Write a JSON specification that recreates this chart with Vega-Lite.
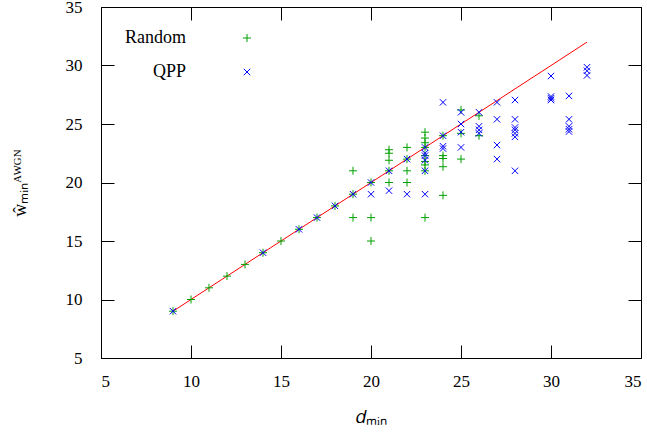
{
  "$schema": "https://vega.github.io/schema/vega-lite/v6.json",
  "width": 540,
  "height": 351,
  "autosize": {"type": "none"},
  "padding": {"left": 101, "top": 7, "right": 6, "bottom": 76},
  "background": "white",
  "config": {
    "view": {"stroke": "black", "strokeWidth": 1},
    "axis": {
      "grid": false,
      "labelFont": "Liberation Serif",
      "labelFontSize": 17,
      "labelColor": "black",
      "titleFont": "Liberation Serif",
      "titleFontSize": 18,
      "titleFontWeight": "normal",
      "titleColor": "black"
    },
    "legend": {
      "orient": "none",
      "legendX": 137,
      "legendY": 22,
      "labelAlign": "right",
      "labelOffset": -70,
      "labelFont": "Liberation Serif",
      "labelFontSize": 18,
      "labelColor": "black",
      "symbolSize": 64,
      "symbolStrokeWidth": 1,
      "rowPadding": 16,
      "padding": 0
    }
  },
  "datasets": {
    "pts": [
      {"d": 9, "w": 9, "s": "Random"}, {"d": 10, "w": 10, "s": "Random"}, {"d": 11, "w": 11, "s": "Random"},
      {"d": 12, "w": 12, "s": "Random"}, {"d": 13, "w": 13, "s": "Random"}, {"d": 14, "w": 14, "s": "Random"},
      {"d": 15, "w": 15, "s": "Random"}, {"d": 16, "w": 16, "s": "Random"}, {"d": 17, "w": 17, "s": "Random"},
      {"d": 18, "w": 18, "s": "Random"},
      {"d": 19, "w": 21, "s": "Random"}, {"d": 19, "w": 19, "s": "Random"}, {"d": 19, "w": 17, "s": "Random"},
      {"d": 20, "w": 20, "s": "Random"}, {"d": 20, "w": 17, "s": "Random"}, {"d": 20, "w": 15, "s": "Random"},
      {"d": 21, "w": 22.8, "s": "Random"}, {"d": 21, "w": 22.5, "s": "Random"}, {"d": 21, "w": 21.9, "s": "Random"},
      {"d": 21, "w": 21, "s": "Random"}, {"d": 21, "w": 20, "s": "Random"},
      {"d": 22, "w": 23, "s": "Random"}, {"d": 22, "w": 22, "s": "Random"}, {"d": 22, "w": 21, "s": "Random"}, {"d": 22, "w": 20, "s": "Random"},
      {"d": 23, "w": 24.3, "s": "Random"}, {"d": 23, "w": 23.8, "s": "Random"}, {"d": 23, "w": 23.4, "s": "Random"},
      {"d": 23, "w": 23, "s": "Random"}, {"d": 23, "w": 22.3, "s": "Random"}, {"d": 23, "w": 21.8, "s": "Random"},
      {"d": 23, "w": 21.5, "s": "Random"}, {"d": 23, "w": 21, "s": "Random"}, {"d": 23, "w": 17, "s": "Random"},
      {"d": 24, "w": 24, "s": "Random"}, {"d": 24, "w": 22.3, "s": "Random"}, {"d": 24, "w": 22.05, "s": "Random"},
      {"d": 24, "w": 21.35, "s": "Random"}, {"d": 24, "w": 18.9, "s": "Random"},
      {"d": 25, "w": 26.2, "s": "Random"}, {"d": 25, "w": 24.2, "s": "Random"}, {"d": 25, "w": 22, "s": "Random"},
      {"d": 26, "w": 25.7, "s": "Random"}, {"d": 26, "w": 24, "s": "Random"},
      {"d": 9, "w": 9, "s": "QPP"}, {"d": 14, "w": 14, "s": "QPP"}, {"d": 16, "w": 16, "s": "QPP"},
      {"d": 17, "w": 17, "s": "QPP"}, {"d": 18, "w": 18, "s": "QPP"}, {"d": 19, "w": 19, "s": "QPP"},
      {"d": 20, "w": 20, "s": "QPP"}, {"d": 20, "w": 19, "s": "QPP"},
      {"d": 21, "w": 21, "s": "QPP"}, {"d": 21, "w": 19.3, "s": "QPP"},
      {"d": 22, "w": 22, "s": "QPP"}, {"d": 22, "w": 19, "s": "QPP"},
      {"d": 23, "w": 23, "s": "QPP"}, {"d": 23, "w": 22.5, "s": "QPP"}, {"d": 23, "w": 22.3, "s": "QPP"},
      {"d": 23, "w": 21.9, "s": "QPP"}, {"d": 23, "w": 21, "s": "QPP"}, {"d": 23, "w": 19, "s": "QPP"},
      {"d": 24, "w": 26.85, "s": "QPP"}, {"d": 24, "w": 24, "s": "QPP"}, {"d": 24, "w": 23.1, "s": "QPP"}, {"d": 24, "w": 22.9, "s": "QPP"},
      {"d": 25, "w": 26, "s": "QPP"}, {"d": 25, "w": 25, "s": "QPP"}, {"d": 25, "w": 24.3, "s": "QPP"}, {"d": 25, "w": 23, "s": "QPP"},
      {"d": 26, "w": 26, "s": "QPP"}, {"d": 26, "w": 24.8, "s": "QPP"}, {"d": 26, "w": 24.5, "s": "QPP"}, {"d": 26, "w": 24.2, "s": "QPP"},
      {"d": 27, "w": 26.85, "s": "QPP"}, {"d": 27, "w": 25.4, "s": "QPP"}, {"d": 27, "w": 23.2, "s": "QPP"}, {"d": 27, "w": 22, "s": "QPP"},
      {"d": 28, "w": 27.05, "s": "QPP"}, {"d": 28, "w": 25.4, "s": "QPP"}, {"d": 28, "w": 24.7, "s": "QPP"},
      {"d": 28, "w": 24.5, "s": "QPP"}, {"d": 28, "w": 24.2, "s": "QPP"}, {"d": 28, "w": 23.9, "s": "QPP"}, {"d": 28, "w": 21, "s": "QPP"},
      {"d": 30, "w": 29.1, "s": "QPP"}, {"d": 30, "w": 27.35, "s": "QPP"}, {"d": 30, "w": 27.2, "s": "QPP"}, {"d": 30, "w": 27.05, "s": "QPP"},
      {"d": 31, "w": 27.4, "s": "QPP"}, {"d": 31, "w": 25.4, "s": "QPP"}, {"d": 31, "w": 24.8, "s": "QPP"},
      {"d": 31, "w": 24.55, "s": "QPP"}, {"d": 31, "w": 24.35, "s": "QPP"},
      {"d": 32, "w": 29.85, "s": "QPP"}, {"d": 32, "w": 29.55, "s": "QPP"}, {"d": 32, "w": 29.15, "s": "QPP"}
    ],
    "ref": [{"d": 9, "w": 9}, {"d": 32, "w": 32}]
  },
  "layer": [
    {
      "data": {"name": "ref"},
      "mark": {"type": "line", "strokeOpacity": 0},
      "encoding": {
        "x": {"field": "d", "type": "quantitative", "scale": {"domain": [5, 35], "nice": false},
              "axis": {"orient": "bottom", "offset": -351, "domain": false, "tickSize": 13, "tickColor": "black", "tickWidth": 1, "values": [5, 10, 15, 20, 25, 30, 35], "labels": false, "title": null}},
        "y": {"field": "w", "type": "quantitative", "scale": {"domain": [5, 35], "nice": false, "zero": false},
              "axis": {"orient": "left", "offset": -540, "domain": false, "tickSize": 13, "tickColor": "black", "tickWidth": 1, "values": [5, 10, 15, 20, 25, 30, 35], "labels": false, "title": null}}
      }
    },
    {
      "data": {"name": "ref"},
      "mark": {"type": "line", "color": "#ff0000", "strokeWidth": 1},
      "encoding": {
        "x": {"field": "d", "type": "quantitative", "scale": {"domain": [5, 35], "nice": false},
              "axis": {"orient": "top", "offset": -351, "domain": false, "tickSize": 13, "tickColor": "black", "tickWidth": 1, "values": [5, 10, 15, 20, 25, 30, 35], "labels": false, "title": null}},
        "y": {"field": "w", "type": "quantitative", "scale": {"domain": [5, 35], "nice": false, "zero": false},
              "axis": {"orient": "right", "offset": -540, "domain": false, "tickSize": 13, "tickColor": "black", "tickWidth": 1, "values": [5, 10, 15, 20, 25, 30, 35], "labels": false, "title": null}}
      }
    },
    {
      "data": {"name": "pts"},
      "mark": {"type": "point", "filled": false, "strokeWidth": 1, "opacity": 1, "size": 64},
      "encoding": {
        "x": {"field": "d", "type": "quantitative", "scale": {"domain": [5, 35], "nice": false},
              "axis": {"orient": "bottom", "domain": false, "tickSize": 0, "tickOpacity": 0, "values": [5, 10, 15, 20, 25, 30, 35], "labelPadding": 15, "title": "𝑑ₘᵢₙ", "titlePadding": 19}},
        "y": {"field": "w", "type": "quantitative", "scale": {"domain": [5, 35], "nice": false, "zero": false},
              "axis": {"orient": "left", "domain": false, "tickSize": 0, "tickOpacity": 0, "values": [5, 10, 15, 20, 25, 30, 35], "labelPadding": 19, "title": "ŵₘᵢₙᴬᵂᴳᴺ", "titlePadding": 36}},
        "color": {"field": "s", "type": "nominal", "title": null,
                  "scale": {"domain": ["Random", "QPP"], "range": ["#00a000", "#0000ff"]}},
        "shape": {"field": "s", "type": "nominal", "title": null,
                  "scale": {"domain": ["Random", "QPP"], "range": ["M-1,0L1,0M0,-1L0,1", "M-0.8,-0.8L0.8,0.8M-0.8,0.8L0.8,-0.8"]}},
        "order": {"field": "s", "sort": "descending"}
      }
    }
  ],
  "resolve": {"scale": {"x": "independent", "y": "independent"}, "axis": {"x": "independent", "y": "independent"}}
}
